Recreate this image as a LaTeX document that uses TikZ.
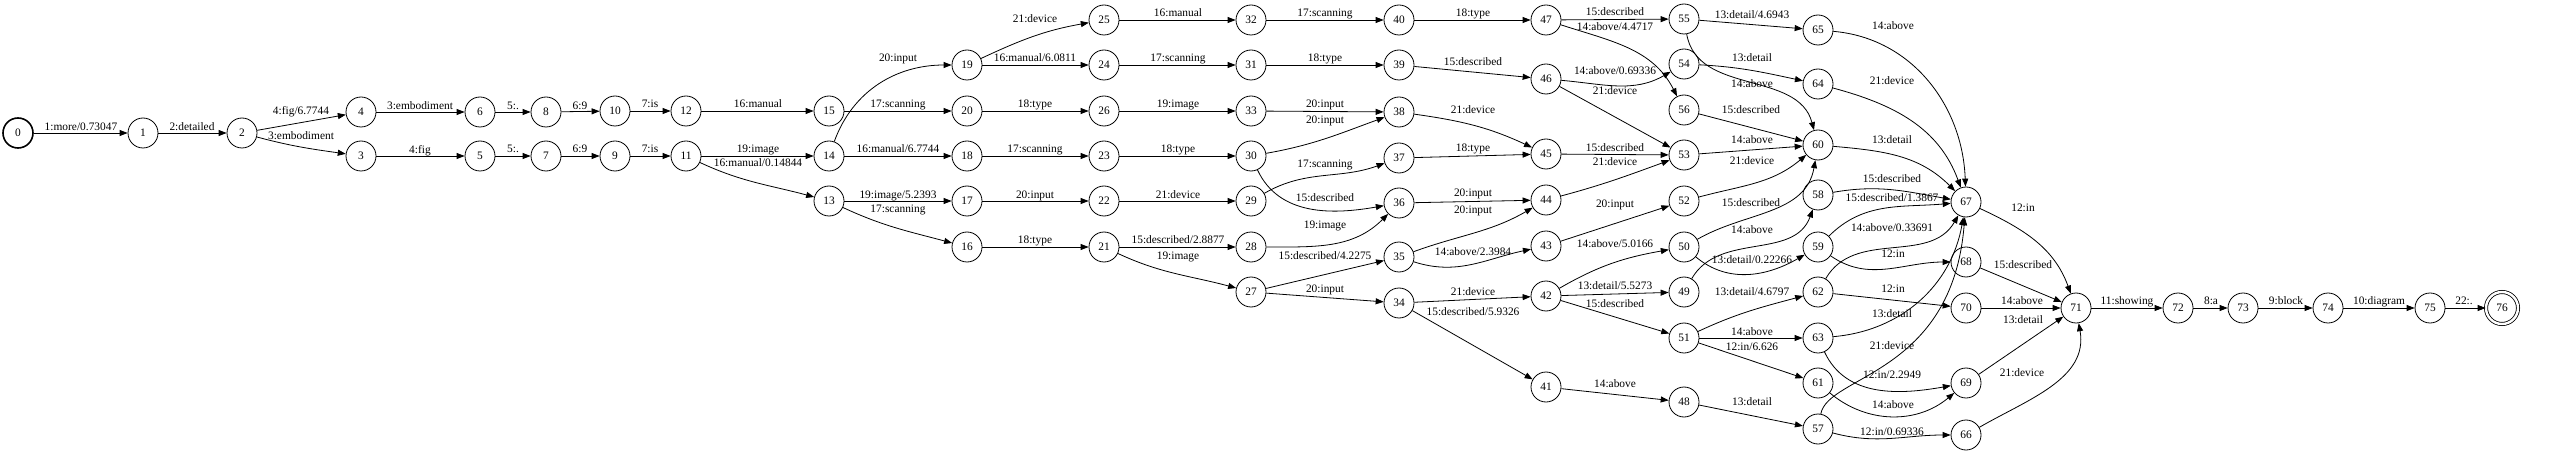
\documentclass[tikz,border=0pt]{standalone}
\usepackage{fontspec}
\setmainfont{Liberation Serif}
\usetikzlibrary{arrows.meta}

\begin{document}
\begin{tikzpicture}[x=1pt, y=1pt, line width=0.8pt,
    font=\fontsize{11.4}{13}\selectfont,
    st/.style={draw, circle, minimum size=30pt, inner sep=0pt},
    e/.style={-{Triangle[length=8pt, width=6pt]}},
    lab/.style={anchor=base, inner sep=0pt}]
  \useasboundingbox (0,0) rectangle (2550,-454);

  % States
  \foreach \n/\x/\y in {1/143/133, 2/242/133, 3/361/156, 4/361/112, 5/480/156, 6/480/112,
      7/546/156, 8/546/112, 9/615/156, 10/615/111, 11/686/156, 12/686/111,
      13/829/201, 14/829/156, 15/829/111, 16/967/247, 17/967/201, 18/967/156,
      19/967/65, 20/967/111, 21/1104/247, 22/1104/201, 23/1104/156, 24/1104/65,
      25/1104/20, 26/1104/111, 27/1251/292, 28/1251/247, 29/1251/201, 30/1251/156,
      31/1251/65, 32/1251/20, 33/1251/111, 34/1399/303, 35/1399/257, 36/1399/203,
      37/1399/158, 38/1399/112, 39/1399/65, 40/1399/20, 41/1546/387, 42/1546/296,
      43/1546/246, 44/1546/200, 45/1546/154, 46/1546/79, 47/1546/20, 48/1684/402,
      49/1684/292, 50/1684/247, 51/1684/338, 52/1684/201, 53/1684/155, 54/1684/64,
      55/1684/19, 56/1684/110, 57/1818/429, 58/1818/195, 59/1818/247, 60/1818/145,
      61/1818/383, 62/1818/292, 63/1818/338, 64/1818/84, 65/1818/30, 66/1966/435,
      67/1966/202, 68/1966/262, 69/1966/383, 70/1966/308, 71/2076/308, 72/2178/308,
      73/2243/308, 74/2328/308, 75/2430/308}
    \node[st] (n\n) at (\x,-\y) {\n};
  \node[st, line width=1.6pt] (n0) at (18,-133) {0};
  \node[st, double, double distance=2.4pt, minimum size=32pt] (n76) at (2502,-308) {76};

  % Arcs, left part
  \draw[e] (n0) -- (n1) node[lab] at (81,-131) {1:more/0.73047};
  \draw[e] (n1) -- (n2) node[lab] at (192,-131) {2:detailed};
  \draw[e] (n2) -- (n4) node[lab] at (301,-115) {4:fig/6.7744};
  \draw[e] (n2) to[out=-15,in=172] (n3) node[lab] at (301,-140) {3:embodiment};
  \draw[e] (n4) -- (n6) node[lab] at (420,-110) {3:embodiment};
  \draw[e] (n3) -- (n5) node[lab] at (420,-154) {4:fig};
  \draw[e] (n6) -- (n8) node[lab] at (513,-110) {5:.};
  \draw[e] (n5) -- (n7) node[lab] at (513,-153) {5:.};
  \draw[e] (n8) -- (n10) node[lab] at (580,-110) {6:9};
  \draw[e] (n7) -- (n9) node[lab] at (580,-153) {6:9};
  \draw[e] (n10) -- (n12) node[lab] at (650,-108) {7:is};
  \draw[e] (n9) -- (n11) node[lab] at (650,-153) {7:is};
  \draw[e] (n12) -- (n15) node[lab] at (758,-108) {16:manual};
  \draw[e] (n11) -- (n14) node[lab] at (758,-153) {19:image};
  \draw[e] (n11) to[out=-25,in=165] (n13) node[lab] at (758,-167) {16:manual/0.14844};
  \draw[e] (n15) -- (n20) node[lab] at (898,-108) {17:scanning};
  \draw[e] (n14) to[out=70,in=180] (n19) node[lab] at (898,-62) {20:input};
  \draw[e] (n14) -- (n18) node[lab] at (898,-153) {16:manual/6.7744};
  \draw[e] (n13) -- (n17) node[lab] at (898,-199) {19:image/5.2393};
  \draw[e] (n13) to[out=-25,in=165] (n16) node[lab] at (898,-213) {17:scanning};
  \draw[e] (n19) to[out=25,in=190] (n25) node[lab] at (1035,-23) {21:device};
  \draw[e] (n19) -- (n24) node[lab] at (1035,-62) {16:manual/6.0811};
  \draw[e] (n20) -- (n26) node[lab] at (1035,-108) {18:type};
  \draw[e] (n18) -- (n23) node[lab] at (1035,-153) {17:scanning};
  \draw[e] (n17) -- (n22) node[lab] at (1035,-199) {20:input};
  \draw[e] (n16) -- (n21) node[lab] at (1035,-244) {18:type};
  \draw[e] (n25) -- (n32) node[lab] at (1178,-17) {16:manual};
  \draw[e] (n24) -- (n31) node[lab] at (1178,-62) {17:scanning};
  \draw[e] (n26) -- (n33) node[lab] at (1178,-108) {19:image};
  \draw[e] (n23) -- (n30) node[lab] at (1178,-153) {18:type};
  \draw[e] (n22) -- (n29) node[lab] at (1178,-199) {21:device};
  \draw[e] (n21) -- (n28) node[lab] at (1178,-244) {15:described/2.8877};
  \draw[e] (n21) to[out=-25,in=165] (n27) node[lab] at (1178,-260) {19:image};

  % Arcs, middle part
  \draw[e] (n32) -- (n40) node[lab] at (1325,-17) {17:scanning};
  \draw[e] (n31) -- (n39) node[lab] at (1325,-62) {18:type};
  \draw[e] (n33) -- (n38) node[lab] at (1325,-108) {20:input};
  \draw[e] (n30) to[out=10,in=-160] (n38) node[lab] at (1325,-124) {20:input};
  \draw[e] (n30) to[out=-65,in=190] (n36) node[lab] at (1325,-202) {15:described};
  \draw[e] (n29) to[out=30,in=200] (n37) node[lab] at (1325,-168) {17:scanning};
  \draw[e] (n28) to[out=0,in=-135] (n36) node[lab] at (1325,-229) {19:image};
  \draw[e] (n27) -- (n35) node[lab] at (1325,-260) {15:described/4.2275};
  \draw[e] (n27) -- (n34) node[lab] at (1325,-292) {20:input};
  \draw[e] (n40) -- (n47) node[lab] at (1473,-17) {18:type};
  \draw[e] (n39) -- (n46) node[lab] at (1473,-66) {15:described};
  \draw[e] (n38) to[out=-8,in=155] (n45) node[lab] at (1473,-114) {21:device};
  \draw[e] (n37) -- (n45) node[lab] at (1473,-152) {18:type};
  \draw[e] (n36) -- (n44) node[lab] at (1473,-197) {20:input};
  \draw[e] (n35) to[out=20,in=-150] (n44) node[lab] at (1473,-214) {20:input};
  \draw[e] (n35) to[out=-18,in=-168] (n43) node[lab] at (1473,-256) {14:above/2.3984};
  \draw[e] (n34) -- (n42) node[lab] at (1473,-295) {21:device};
  \draw[e] (n34) -- (n41) node[lab] at (1473,-316) {15:described/5.9326};
  \draw[e] (n47) -- (n55) node[lab] at (1615,-16) {15:described};
  \draw[e] (n47) to[out=-18,in=117] (n56) node[lab] at (1615,-31) {14:above/4.4717};
  \draw[e] (n46) to[out=-5,in=-150] (n54) node[lab] at (1615,-75) {14:above/0.69336};
  \draw[e] (n46) -- (n53) node[lab] at (1615,-95) {21:device};
  \draw[e] (n45) -- (n53) node[lab] at (1615,-152) {15:described};
  \draw[e] (n44) to[out=15,in=-160] (n53) node[lab] at (1615,-166) {21:device};
  \draw[e] (n43) -- (n52) node[lab] at (1615,-208) {20:input};
  \draw[e] (n42) to[out=30,in=-170] (n50) node[lab] at (1615,-248) {14:above/5.0166};
  \draw[e] (n42) -- (n49) node[lab] at (1615,-290) {13:detail/5.5273};
  \draw[e] (n42) -- (n51) node[lab] at (1615,-307) {15:described};
  \draw[e] (n41) -- (n48) node[lab] at (1615,-387) {14:above};

  % Arcs, right part
  \draw[e] (n55) -- (n65) node[lab] at (1752,-19) {13:detail/4.6943};
  \draw[e] (n55) to[out=-80,in=105] (n60) node[lab] at (1752,-88) {14:above};
  \draw[e] (n54) to[out=-3,in=168] (n64) node[lab] at (1752,-62) {13:detail};
  \draw[e] (n56) -- (n60) node[lab] at (1751,-114) {15:described};
  \draw[e] (n53) -- (n60) node[lab] at (1752,-144) {14:above};
  \draw[e] (n52) to[out=15,in=-140] (n60) node[lab] at (1752,-165) {21:device};
  \draw[e] (n50) to[out=30,in=-100] (n60) node[lab] at (1751,-207) {15:described};
  \draw[e] (n50) to[out=-40,in=-150] (n59) node[lab] at (1752,-264) {13:detail/0.22266};
  \draw[e] (n49) to[out=60,in=-110] (n58) node[lab] at (1752,-234) {14:above};
  \draw[e] (n51) to[out=25,in=-165] (n62) node[lab] at (1752,-295) {13:detail/4.6797};
  \draw[e] (n51) -- (n63) node[lab] at (1752,-335) {14:above};
  \draw[e] (n51) -- (n61) node[lab] at (1752,-350) {12:in/6.626};
  \draw[e] (n48) -- (n57) node[lab] at (1752,-405) {13:detail};
  \draw[e] (n65) to[out=-5,in=92] (n67) node[lab] at (1893,-30) {14:above};
  \draw[e] (n64) to[out=-15,in=110] (n67) node[lab] at (1892,-85) {21:device};
  \draw[e] (n60) to[out=-5,in=135] (n67) node[lab] at (1892,-144) {13:detail};
  \draw[e] (n58) to[out=10,in=170] (n67) node[lab] at (1892,-183) {15:described};
  \draw[e] (n59) to[out=45,in=185] (n67) node[lab] at (1892,-202) {15:described/1.3867};
  \draw[e] (n62) to[out=60,in=-120] (n67) node[lab] at (1892,-232) {14:above/0.33691};
  \draw[e] (n59) to[out=-35,in=180] (n68) node[lab] at (1893,-258) {12:in};
  \draw[e] (n62) -- (n70) node[lab] at (1893,-292) {12:in};
  \draw[e] (n63) to[out=5,in=-100] (n67) node[lab] at (1892,-317) {13:detail};
  \draw[e] (n57) .. controls (1828,-375) and (1952,-375) .. (n67) node[lab] at (1892,-349) {21:device};
  \draw[e] (n63) to[out=-65,in=190] (n69) node[lab] at (1892,-378) {12:in/2.2949};
  \draw[e] (n61) to[out=-40,in=-140] (n69) node[lab] at (1893,-408) {14:above};
  \draw[e] (n57) to[out=-15,in=180] (n66) node[lab] at (1892,-435) {12:in/0.69336};
  \draw[e] (n67) to[out=-25,in=110] (n71) node[lab] at (2023,-212) {12:in};
  \draw[e] (n68) -- (n71) node[lab] at (2023,-269) {15:described};
  \draw[e] (n70) -- (n71) node[lab] at (2022,-305) {14:above};
  \draw[e] (n69) -- (n71) node[lab] at (2023,-323) {13:detail};
  \draw[e] (n66) to[out=30,in=-80] (n71) node[lab] at (2022,-376) {21:device};
  \draw[e] (n71) -- (n72) node[lab] at (2127,-305) {11:showing};
  \draw[e] (n72) -- (n73) node[lab] at (2211,-305) {8:a};
  \draw[e] (n73) -- (n74) node[lab] at (2286,-305) {9:block};
  \draw[e] (n74) -- (n75) node[lab] at (2379,-305) {10:diagram};
  \draw[e] (n75) -- (n76) node[lab] at (2464,-305) {22:.};
\end{tikzpicture}
\end{document}
